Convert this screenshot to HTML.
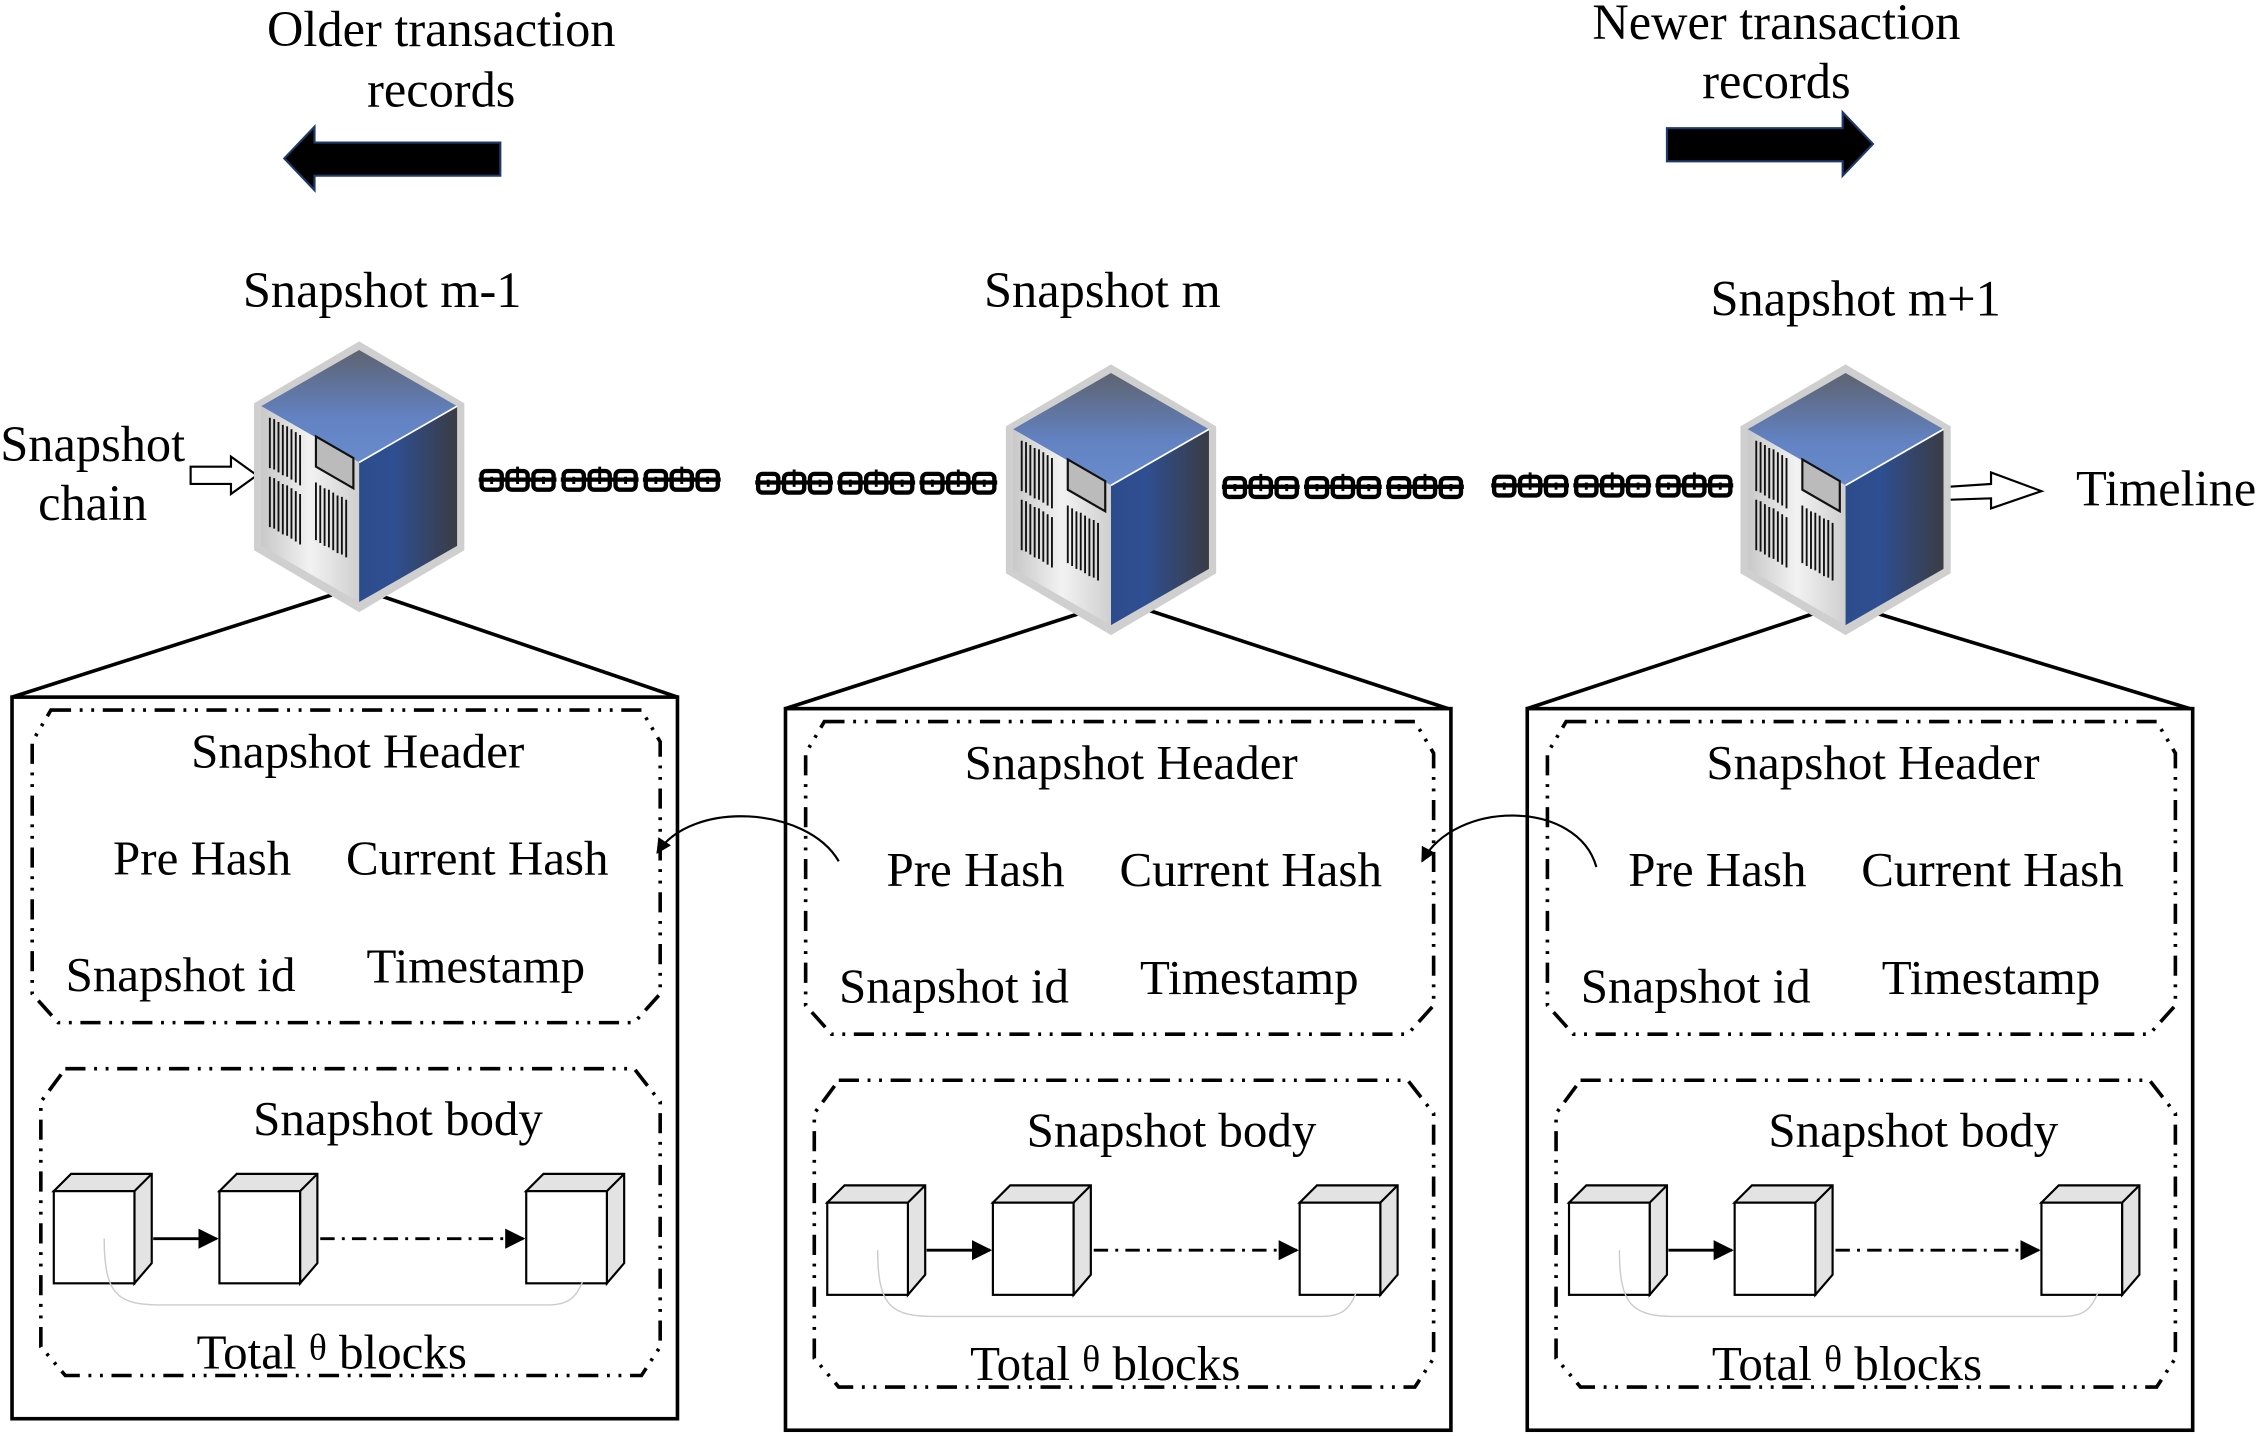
<!DOCTYPE html>
<html><head><meta charset="utf-8"><style>html,body{margin:0;padding:0;background:#fff}svg{display:block}</style></head>
<body>
<svg width="2258" height="1436" viewBox="0 0 1567 997" xmlns="http://www.w3.org/2000/svg" font-family="'Liberation Serif', serif">
<defs>
<linearGradient id="top" x1="0" y1="0" x2="0" y2="1"><stop offset="0" stop-color="#5e6370"/><stop offset="0.6" stop-color="#6282c2"/><stop offset="1" stop-color="#6a8ccc"/></linearGradient>
<linearGradient id="rt" x1="0" y1="0" x2="1" y2="0"><stop offset="0" stop-color="#2d4c8c"/><stop offset="0.35" stop-color="#2e4f92"/><stop offset="1" stop-color="#3a3c44"/></linearGradient>
<linearGradient id="lf" x1="0" y1="0" x2="1" y2="0"><stop offset="0" stop-color="#c8c8c8"/><stop offset="0.5" stop-color="#f2f2f2"/><stop offset="1" stop-color="#cfcfcf"/></linearGradient>
<g id="srv">
 <polygon points="0,-3 73,40 73,142 0,185 -73,142 -73,40" fill="#cfcfcf"/>
 <polygon points="0,3 68,42 0,81 -68,42" fill="url(#top)"/>
 <polygon points="-68,42 0,81 0,178 -68,139" fill="url(#lf)"/>
 <polygon points="0,81 68,42 68,139 0,178" fill="url(#rt)"/>
 <line x1="0" y1="81" x2="68" y2="42" stroke="#fff" stroke-width="1.2"/>
 <g stroke="#111" stroke-width="1.3">
  <path d="M-62,50v35M-59,51v35M-56,53v35M-53,55v35M-50,56v35M-47,58v35M-44,60v35M-41,62v35M-62,91v35M-59,92v35M-56,94v35M-53,96v35M-50,97v35M-47,99v35M-44,101v35M-41,103v35"/>
  <path d="M-30,95v40M-27,97v40M-24,99v40M-21,100v40M-18,102v40M-15,104v40M-12,105v40M-9,107v40"/>
 </g>
 <polygon points="-30,63 -4,78 -4,99 -30,84" fill="#bbb" stroke="#111" stroke-width="1.5"/>
</g>
<g id="grp" fill="none" stroke="#000">
 <line x1="0" y1="0" x2="54" y2="0" stroke-width="3"/>
 <rect x="2" y="-6" width="14" height="13" rx="3" stroke-width="3"/>
 <rect x="20" y="-6" width="14" height="13" rx="3" stroke-width="3"/>
 <rect x="38" y="-6" width="14" height="13" rx="3" stroke-width="3"/>
 <path d="M9,-2v5M27,-9v12M45,-2v5" stroke-width="2"/>
</g>
<g id="chain"><use href="#grp" x="0"/><use href="#grp" x="57"/><use href="#grp" x="114"/></g>
<g id="blk"><polygon points="0,12 12,0 68,0 68,62 56,76 56,12" fill="#e3e3e3" stroke="#000" stroke-width="1.5"/><line x1="56" y1="12" x2="68" y2="0" stroke="#000" stroke-width="1.5"/><rect x="0" y="12" width="56" height="64" fill="#fff" stroke="#000" stroke-width="1.5"/></g>
<marker id="ah" viewBox="0 0 10 10" refX="9" refY="5" markerWidth="7" markerHeight="7" orient="auto"><path d="M0,0L10,5L0,10z" fill="#000"/></marker>
<g id="panel">
 <rect x="8" y="484" width="462" height="501" fill="none" stroke="#000" stroke-width="2.5"/>
 <polygon points="35,493 445,493 458,515 458,690 440,710 40,710 22,690 22,515" fill="none" stroke="#000" stroke-width="2.5" stroke-dasharray="14 6 2 6 2 6"/>
 <text x="248" y="533" font-size="34" text-anchor="middle">Snapshot Header</text>
 <text x="140" y="607" font-size="34" text-anchor="middle">Pre Hash</text>
 <text x="331" y="607" font-size="34" text-anchor="middle">Current Hash</text>
 <text x="125" y="688" font-size="34" text-anchor="middle">Snapshot id</text>
 <text x="330" y="682" font-size="34" text-anchor="middle">Timestamp</text>
 <polygon points="45,742 440,742 458,765 458,935 445,955 45,955 28,935 28,765" fill="none" stroke="#000" stroke-width="2.5" stroke-dasharray="14 6 2 6 2 6"/>
 <text x="276" y="788" font-size="34" text-anchor="middle">Snapshot body</text>
 <use href="#blk" x="37" y="815"/><use href="#blk" x="152" y="815"/><use href="#blk" x="365" y="815"/>
 <line x1="106" y1="860" x2="150" y2="860" stroke="#000" stroke-width="2" marker-end="url(#ah)"/>
 <line x1="222" y1="860" x2="363" y2="860" stroke="#000" stroke-width="2" stroke-dasharray="10 5 2 5" marker-end="url(#ah)"/>
 <path d="M72,860 C72,900 82,906 112,906 L380,906 C395,906 400,900 404,890" fill="none" stroke="#ccc" stroke-width="1"/>
 <text x="230" y="950" font-size="34" text-anchor="middle">Total <tspan font-size="26" dy="-6">θ</tspan><tspan dy="6"> blocks</tspan></text>
</g>
</defs>
<rect width="1567" height="997" fill="#fff"/>
<text x="306" y="32" font-size="35" text-anchor="middle">Older transaction</text>
<text x="306" y="74" font-size="35" text-anchor="middle">records</text>
<polygon points="197,110 218,88 218,99 347,99 347,122 218,122 218,132" fill="#000" stroke="#1f3a6a" stroke-width="1.5"/>
<text x="1233" y="27" font-size="35" text-anchor="middle">Newer transaction</text>
<text x="1233" y="68" font-size="35" text-anchor="middle">records</text>
<polygon points="1300,100 1279,78 1279,89 1157,89 1157,112 1279,112 1279,122" fill="#000" stroke="#1f3a6a" stroke-width="1.5"/>
<text x="265" y="213" font-size="35" text-anchor="middle">Snapshot m-1</text>
<text x="765" y="213" font-size="35" text-anchor="middle">Snapshot m</text>
<text x="1288" y="219" font-size="35" text-anchor="middle">Snapshot m+1</text>
<text x="64" y="320" font-size="35" text-anchor="middle">Snapshot</text>
<text x="64" y="361" font-size="35" text-anchor="middle">chain</text>
<polygon points="132,324 160,324 160,317 178,330 160,343 160,336 132,336" fill="#fff" stroke="#000" stroke-width="1.5"/>
<polygon points="1352,338 1382,336 1382,328 1417,341 1382,353 1382,346 1352,347" fill="#fff" stroke="#000" stroke-width="1.5"/>
<text x="1441" y="351" font-size="35">Timeline</text>
<g stroke="#000" stroke-width="2.5">
<line x1="230" y1="413" x2="8" y2="484"/><line x1="262" y1="413" x2="470" y2="484"/>
<line x1="752" y1="425" x2="545" y2="492"/><line x1="795" y1="423" x2="1005" y2="492"/>
<line x1="1262" y1="425" x2="1060" y2="492"/><line x1="1300" y1="425" x2="1520" y2="492"/>
</g>
<use href="#srv" x="249" y="240"/>
<use href="#srv" x="771" y="256"/>
<use href="#srv" x="1281" y="256"/>
<use href="#chain" x="332" y="333"/>
<use href="#chain" x="524" y="335"/>
<use href="#chain" x="848" y="338"/>
<use href="#chain" x="1035" y="337"/>
<use href="#panel"/>
<use href="#panel" x="537" y="8"/>
<use href="#panel" x="1052" y="8"/>
<path d="M582,598 C560,560 480,555 456,592" fill="none" stroke="#000" stroke-width="1.5" marker-end="url(#ah)"/>
<path d="M1108,602 C1095,555 1010,555 987,598" fill="none" stroke="#000" stroke-width="1.5" marker-end="url(#ah)"/>
</svg>
</body></html>
